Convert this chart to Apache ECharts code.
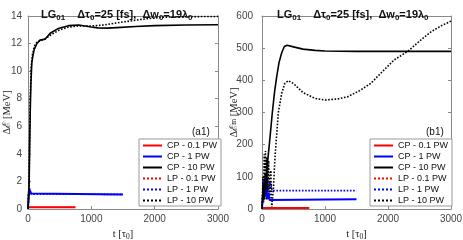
<!DOCTYPE html>
<html><head><meta charset="utf-8">
<script src="https://cdn.jsdelivr.net/npm/echarts@6/dist/echarts.min.js"></script>
<style>html,body{margin:0;padding:0;background:#fff}#c{width:463px;height:240px}</style>
</head><body><div id="c"></div>
<script>
// ---- data ----
const seriesNames = ['CP - 0.1 PW','CP - 1 PW','CP - 10 PW','LP - 0.1 PW','LP - 1 PW','LP - 10 PW'];
const xTicks = [0, 1000, 2000, 3000];
const yTicksA = [0, 2, 4, 6, 8, 10, 12, 14];
const yTicksB = [0, 100, 200, 300, 400, 500, 600];

// panel (a1): energy gain [MeV] vs t [tau0]
const a_CP01 = [[0,0.13],[750,0.13]];
const a_CP1  = [[0,0],[8,1.0],[18,1.5],[30,1.35],[50,1.12],[80,1.06],[1500,1.06]];
const a_CP10 = [[0,0],[15,1],[25,4],[35,7],[45,9],[60,10.6],[80,11.2],[100,11.6],[140,12.0],[190,12.25],[270,12.32],[350,12.75],[480,13.1],[640,13.3],[800,13.35],[900,13.28],[1000,13.2],[1100,13.14],[1250,13.12],[1400,13.16],[1700,13.24],[2000,13.3],[2500,13.35],[3000,13.37]];
const a_LP01 = [[0,0.13],[750,0.13]];
const a_LP1  = [[0,0],[10,1.1],[25,1.25],[50,1.08],[80,1.06],[1500,1.06]];
const a_LP10 = [[0,0],[15,1.5],[25,5],[35,8],[50,10.3],[70,11.2],[100,11.8],[140,12.1],[190,12.2],[270,12.35],[350,12.6],[480,12.95],[640,13.2],[800,13.28],[1000,13.28],[1200,13.35],[1400,13.5],[1600,13.63],[1800,13.76],[2000,13.86],[2200,13.92],[2500,13.95],[3000,13.97]];

// panel (b1): max energy [MeV] vs t [tau0]
const b_CP01 = [[0,3],[750,3]];
const b_CP1  = [[0,0],[20,60],[35,90],[50,40],[65,85],[80,30],[100,50],[120,28],[150,30],[1500,30]];
const b_CP10 = [[0,0],[20,80],[35,30],[50,110],[65,60],[80,130],[111,190],[140,250],[164,300],[200,365],[233,411],[270,455],[312,485],[354,505],[400,509],[500,504],[650,497],[841,493],[1000,491],[1500,490],[3000,490]];
const b_LP01 = [[0,3],[750,3]];
const b_LP1  = [[0,0],[20,70],[40,95],[60,50],[80,90],[100,60],[130,85],[160,57],[1500,57]];
const b_LP10 = [[0,0],[15,100],[25,20],[35,170],[45,40],[55,180],[65,30],[75,160],[90,50],[105,150],[120,30],[140,120],[155,5],[180,60],[206,160],[259,300],[313,360],[360,390],[417,399],[500,390],[650,362],[841,344],[1000,339],[1200,342],[1360,349],[1550,368],[1730,391],[1900,425],[2095,463],[2312,490],[2500,522],[2683,551],[2850,570],[3000,584]];

const colors = ['#ff0000','#0000ff','#000000','#ff0000','#0000ff','#000000'];
const types = ['solid','solid','solid','dotted','dotted','dotted'];
const widths = [2,2,1.6,1.6,1.6,1.6];

const chart = echarts.init(document.getElementById('c'));
const axCol = '#8a8a8a';
const lblCol = '#444';
const FONT = '"Liberation Sans", Arial, sans-serif';

function xAx(gi, show){
  return {type:'value', gridIndex:gi, min:0, max:3000, interval:1000, position: show?'bottom':'top',
    axisLine:{show:true,onZero:false,lineStyle:{color:axCol,width:1}},
    axisTick:{show:true,inside:true,length:3,lineStyle:{color:axCol}},
    axisLabel:{show:show,fontSize:10,color:lblCol,fontFamily:FONT,margin:5,
      formatter:v=> xTicks.includes(v)? String(v):''},
    splitLine:{show:false},
    name: show ? '{n|t [τ}{s|0}{n|]}' : '', nameLocation:'middle', nameGap:19, nameMoveOverlap:false,
    nameTextStyle:{rich:{n:{fontFamily:'"Liberation Serif", serif',fontSize:10.5,color:'#222'},
                         s:{fontFamily:'"Liberation Serif", serif',fontSize:7.5,color:'#222',padding:[5,0,0,0]}}}
  };
}
function yAx(gi, max, iv, ticks, show, nm, margin, gap){
  return {type:'value', gridIndex:gi, min:0, max:max, interval:iv, position: show?'left':'right',
    axisLine:{show:true,onZero:false,lineStyle:{color:axCol,width:1}},
    axisTick:{show:true,inside:true,length:3,lineStyle:{color:axCol}},
    axisLabel:{show:show,fontSize:10,color:lblCol,fontFamily:FONT,margin:margin,
      formatter:v=> ticks.includes(v)? String(v):''},
    splitLine:{show:false},
    name: show ? nm : '', nameLocation:'middle', nameGap: gap, nameRotate:90, nameMoveOverlap:false,
    nameTextStyle:{rich:{n:{fontFamily:'"Liberation Serif", serif',fontSize:10.5,color:'#222'},
                         s:{fontFamily:'"Liberation Serif", serif',fontSize:7.5,color:'#222',padding:[0,0,0,0]}}}
  };
}
const titleText = '{b|LG}{s|01}{g|}{b|Δτ}{s|0}{b|=25 [fs],  Δw}{s|0}{b|=19λ}{s|0}';
const titleRich = {b:{fontFamily:FONT,fontWeight:'bold',fontSize:11,color:'#111',lineHeight:14},
                   s:{fontFamily:FONT,fontWeight:'bold',fontSize:8,color:'#111',lineHeight:14,padding:[6,0,0,0]},
                   g:{width:12}};

function mk(gi, arrs){
  return arrs.map((d,i)=>({
    name: seriesNames[i], type:'line', xAxisIndex:gi*2, yAxisIndex:gi*2, data:d,
    showSymbol:false, symbol:'none', animation:false, z: i<3 ? 3 : 2,
    lineStyle:{color:colors[i],type:types[i],width:widths[i]}, itemStyle:{color:colors[i]}
  }));
}

function legendAt(left){
  return {
    orient:'vertical', left:left, top:139, data:seriesNames,
    itemWidth:19, itemHeight:9, itemGap:2, padding:[2,4,1,3],
    itemStyle:{opacity:0},
    backgroundColor:'#fff', borderColor:'#999', borderWidth:1,
    textStyle:{fontSize:9,fontFamily:FONT,color:'#111'},
    selectedMode:false
  };
}

chart.setOption({
  animation:false,
  title:[
    {text:titleText, left:36, top:1, textStyle:{rich:titleRich}},
    {text:titleText, left:272, top:1, textStyle:{rich:titleRich}}
  ],
  grid:[
    {left:28, right:245, top:16, bottom:31, outerBoundsMode:'none', containLabel:false},
    {left:262, right:12, top:16, bottom:31, outerBoundsMode:'none', containLabel:false}
  ],
  xAxis:[xAx(0,true), xAx(0,false), xAx(1,true), xAx(1,false)],
  yAxis:[
    yAx(0,14,2,yTicksA,true,'{n|Δℰ [MeV]}',6,15),
    yAx(0,14,2,yTicksA,false,'',6,15),
    yAx(1,600,100,yTicksB,true,'{n|Δℰ}{s|m}{n| [MeV]}',9,22),
    yAx(1,600,100,yTicksB,false,'',9,22)
  ],
  legend:[legendAt(139), legendAt(370)],
  graphic:[
    {type:'text', left:192, top:127, style:{text:'(a1)', font:'10px "Liberation Sans", Arial, sans-serif', fill:'#111'}},
    {type:'text', left:426, top:127, style:{text:'(b1)', font:'10px "Liberation Sans", Arial, sans-serif', fill:'#111'}}
  ],
  series: mk(0,[a_CP01,a_CP1,a_CP10,a_LP01,a_LP1,a_LP10]).concat(mk(1,[b_CP01,b_CP1,b_CP10,b_LP01,b_LP1,b_LP10]))
});
</script></body></html>
